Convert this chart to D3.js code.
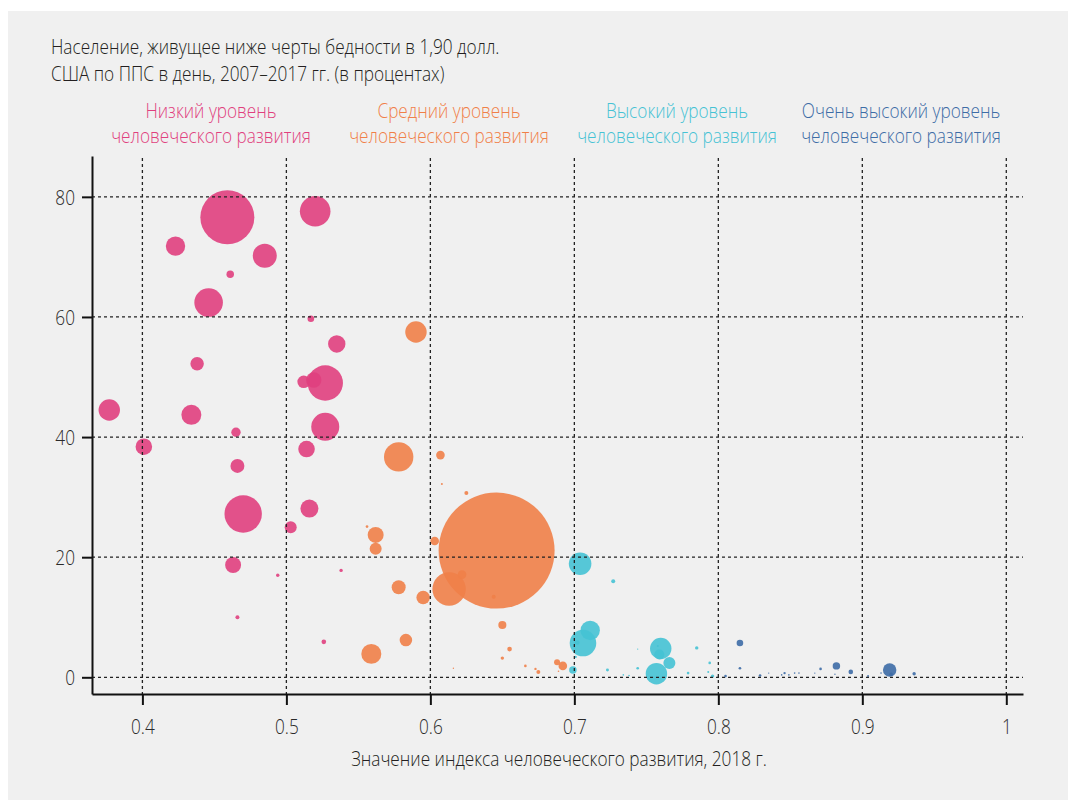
<!DOCTYPE html>
<html>
  <head>
    <meta charset="utf-8">
    <title>ИЧР и бедность</title>
    <script src="https://d3js.org/d3.v7.min.js"></script>
    <style>
      body { margin: 0; background: #fff; }
      text { font-family: "Open Sans", sans-serif; font-weight: 300; }
    </style>
  </head>
  <body>
    <script>

      // --- data ---
      // hdi = значение ИЧР, pov = % ниже черты бедности, poor = размер кружка (млн бедных, примерно)
      var titleLines = ["Население, живущее ниже черты бедности в 1,90 долл.",
                        "США по ППС в день, 2007–2017 гг. (в процентах)"];
      var groupNames = [["Низкий уровень", "человеческого развития"],
                        ["Средний уровень", "человеческого развития"],
                        ["Высокий уровень", "человеческого развития"],
                        ["Очень высокий уровень", "человеческого развития"]];
      var groupColors = ["#e03f7e", "#f07f48", "#45c2d4", "#3d6ca6"];
      var xTicks = [0.4, 0.5, 0.6, 0.7, 0.8, 0.9, 1];
      var yTicks = [0, 20, 40, 60, 80];
      var xTitle = "Значение индекса человеческого развития, 2018 г.";

      var lowHdi  = [0.459, 0.520, 0.423, 0.485, 0.461, 0.446, 0.517, 0.535, 0.438, 0.527, 0.512, 0.519, 0.377, 0.434, 0.527, 0.465, 0.401, 0.514, 0.466, 0.470, 0.516, 0.503, 0.463, 0.494, 0.538, 0.466, 0.526];
      var lowPov  = [76.6, 77.6, 71.8, 70.2, 67.1, 62.4, 59.7, 55.5, 52.2, 49.0, 49.2, 49.5, 44.5, 43.7, 41.7, 40.8, 38.4, 38.0, 35.2, 27.2, 28.1, 25.0, 18.7, 17.0, 17.8, 10.0, 5.9];
      var lowPoor = [62.8, 20.2, 8.1, 12.4, 1.2, 17.6, 0.94, 6.5, 3.9, 27.0, 3.4, 5.1, 9.9, 8.6, 16.9, 1.9, 5.9, 5.9, 4.2, 30.1, 7.0, 3.1, 5.5, 0.25, 0.25, 0.34, 0.46];

      var midHdi  = [0.590, 0.578, 0.607, 0.608, 0.625, 0.556, 0.562, 0.562, 0.603, 0.646, 0.613, 0.622, 0.644, 0.578, 0.595, 0.583, 0.559, 0.650, 0.655, 0.650, 0.666, 0.673, 0.675, 0.688, 0.692, 0.689, 0.616];
      var midPov  = [57.5, 36.7, 37.0, 32.2, 30.7, 25.1, 23.7, 21.4, 22.7, 21.1, 14.7, 17.1, 13.4, 15.0, 13.3, 6.2, 3.9, 8.7, 4.7, 3.2, 1.9, 1.4, 0.9, 2.5, 1.9, 1.0, 1.5];
      var midPoor = [9.9, 18.6, 1.6, 0.09, 0.34, 0.15, 5.5, 3.1, 1.6, 290, 24.0, 1.6, 0.34, 4.2, 3.9, 3.4, 8.6, 1.4, 0.46, 0.25, 0.15, 0.12, 0.34, 0.78, 1.6, 0.055, 0.04];

      var highHdi  = [0.704, 0.727, 0.711, 0.706, 0.702, 0.699, 0.723, 0.744, 0.760, 0.759, 0.758, 0.766, 0.757, 0.785, 0.794, 0.779, 0.793, 0.796, 0.734, 0.738, 0.701, 0.744];
      var highPov  = [18.9, 16.0, 7.8, 5.7, 5.8, 1.2, 1.2, 1.5, 4.8, 3.8, 5.2, 2.4, 0.6, 4.9, 2.4, 0.7, 0.9, 0.2, 0.4, 0.3, 3.4, 4.7];
      var highPoor = [11.0, 0.34, 8.1, 15.2, 0.46, 1.2, 0.19, 0.15, 9.9, 2.2, 0.09, 3.1, 9.9, 0.25, 0.15, 0.15, 0.09, 0.25, 0.055, 0.055, 0.09, 0.04];

      var vhighHdi  = [0.815, 0.815, 0.805, 0.829, 0.835, 0.844, 0.846, 0.849, 0.853, 0.856, 0.867, 0.871, 0.882, 0.892, 0.881, 0.904, 0.913, 0.919, 0.920, 0.936];
      var vhighPov  = [5.7, 1.5, 0.2, 0.3, 0.7, 0.4, 0.7, 0.4, 0.7, 0.7, 0.7, 1.4, 1.9, 0.9, 0.5, 0.2, 0.7, 1.2, 0.5, 0.6];
      var vhighPoor = [0.94, 0.15, 0.15, 0.15, 0.04, 0.055, 0.12, 0.055, 0.055, 0.055, 0.04, 0.15, 1.2, 0.46, 0.04, 0.09, 0.055, 3.9, 0.25, 0.25];

      var groupData = [[lowHdi, lowPov, lowPoor], [midHdi, midPov, midPoor],
                       [highHdi, highPov, highPoor], [vhighHdi, vhighPov, vhighPoor]];

      // --- svg ---
      var W = 1068, H = 800;
      var svg = d3.select("body").append("svg")
                  .attr("width", W)
                  .attr("height", H);

      svg.append("rect")
         .attr("x", 8).attr("y", 11)
         .attr("width", W - 8).attr("height", H - 11)
         .attr("fill", "#f0f0f0");

      // condensed look: squeeze every text by the same factor
      var squeeze = 0.86;
      const condense = sel => {
        sel.each(function() {
          var len = this.getComputedTextLength();
          d3.select(this).attr("textLength", len * squeeze).attr("lengthAdjust", "spacingAndGlyphs");
        });
      };

      var x = d3.scaleLinear().domain([0.365, 1.0116]).range([92, 1023]);
      var y = d3.scaleLinear().domain([-2.78, 86.8]).range([694, 156]);
      var r = d3.scaleSqrt().domain([0, 290]).range([0, 58]);

      // bubbles
      groupData.forEach(function(g, gi) {
        var pts = g[0].map(function(h, i) { return {hdi: h, pov: g[1][i], poor: g[2][i]}; });
        svg.append("g")
           .selectAll("circle")
           .data(pts)
           .enter()
           .append("circle")
           .attr("cx", d => x(d.hdi))
           .attr("cy", d => y(d.pov))
           .attr("r", d => r(d.poor))
           .attr("fill", groupColors[gi])
           .attr("fill-opacity", 0.9);
      });

      // grid (drawn over the bubbles, as in the original)
      var grid = svg.append("g")
                    .attr("stroke", "#222")
                    .attr("stroke-width", 1.3)
                    .attr("stroke-dasharray", "3,3");
      grid.selectAll(".hg").data(yTicks).enter().append("line")
          .attr("x1", 92).attr("x2", 1023)
          .attr("y1", d => y(d)).attr("y2", d => y(d));
      grid.selectAll(".vg").data(xTicks).enter().append("line")
          .attr("x1", d => x(d)).attr("x2", d => x(d))
          .attr("y1", 158).attr("y2", 694);

      // axes
      var xAxis = svg.append("g")
                     .attr("transform", "translate(0,694)")
                     .call(d3.axisBottom(x).tickValues(xTicks).tickFormat(d3.format("")).tickSize(11).tickSizeOuter(0).tickPadding(10));
      var yAxis = svg.append("g")
                     .attr("transform", "translate(92,0)")
                     .call(d3.axisLeft(y).tickValues(yTicks).tickSize(10).tickSizeOuter(0).tickPadding(7));

      [xAxis, yAxis].forEach(function(a) {
        a.select(".domain").attr("stroke", "#111").attr("stroke-width", 2);
        a.selectAll(".tick line").attr("stroke", "#111").attr("stroke-width", 2);
        a.selectAll(".tick text")
         .attr("fill", "#2a2a2a")
         .style("font-size", "20px")
         .style("font-family", "'Open Sans', sans-serif")
         .style("font-weight", 300);
      });
      xAxis.selectAll(".tick text").attr("dy", "0.95em");
      yAxis.selectAll(".tick text").attr("dy", "0.36em");
      xAxis.selectAll(".tick text").call(condense);
      yAxis.selectAll(".tick text").call(condense);

      // title
      svg.append("g").selectAll("text")
         .data(titleLines)
         .enter()
         .append("text")
         .attr("x", 51)
         .attr("y", (d, i) => 54 + i * 27)
         .attr("fill", "#231f20")
         .style("font-size", "20px")
         .text(d => d)
         .call(condense);

      // group headers
      var headerX = [211, 449, 677, 901];
      groupNames.forEach(function(lines, gi) {
        svg.append("g").selectAll("text")
           .data(lines)
           .enter()
           .append("text")
           .attr("x", headerX[gi])
           .attr("y", (d, i) => 118 + i * 25)
           .attr("text-anchor", "middle")
           .attr("fill", groupColors[gi])
           .style("font-size", "20px")
           .text(d => d)
           .call(condense);
      });

      // x axis title
      svg.append("text")
         .attr("x", 559)
         .attr("y", 766)
         .attr("text-anchor", "middle")
         .attr("fill", "#231f20")
         .style("font-size", "20px")
         .text(xTitle)
         .call(condense);

    </script>
  </body>
</html>
